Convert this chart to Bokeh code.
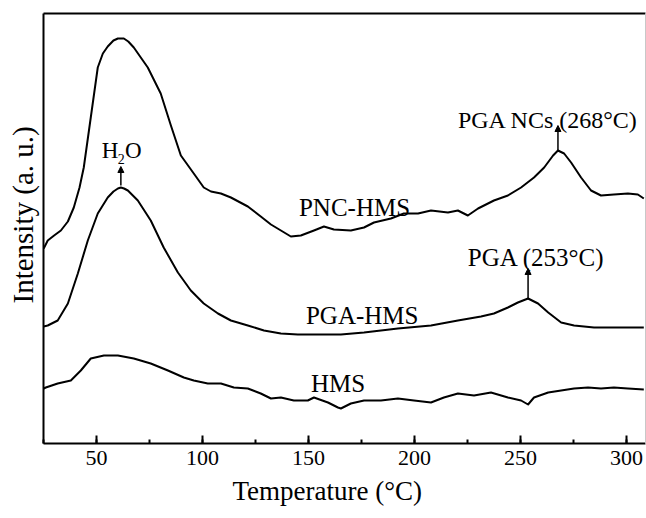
from bokeh.plotting import figure
from bokeh.models import Range1d, LinearAxis, SingleIntervalTicker, FixedTicker, Arrow, NormalHead, Title
from bokeh.core.properties import value
from bokeh.embed import file_html
from bokeh.resources import INLINE

# ---- data (intensity in arbitrary units) ----
pnc_x = [25.1, 27.0, 30.0, 33.2, 36.5, 39.3, 42.0, 44.0, 47.3, 50.6, 53.0, 55.3, 58.0, 60.1, 62.9, 65.0,
         67.6, 74.2, 80.3, 85.1, 89.8, 95.9, 100.6, 104.0, 108.7, 113.4, 121.4, 127.5, 132.3,
         137.0, 141.7, 146.4, 152.6, 157.3, 162.0, 170.0, 176.2, 180.9, 188.9, 195.0, 201.7,
         207.8, 215.8, 220.5, 225.2, 230.0, 237.5, 244.1, 250.3, 256.4, 261.2, 265.4, 267.7,
         270.6, 273.9, 278.6, 283.3, 288.0, 294.1, 300.7, 305.4, 308.2]
pnc_y = [195, 203, 208, 213, 222, 236, 256, 276, 326, 376, 390, 397, 403, 405, 405, 402,
         396, 376, 350, 318, 288, 270, 256, 252, 250, 246, 237, 227, 219,
         213, 207, 208, 213, 217, 214, 213, 216, 221, 225, 230, 230,
         233, 231, 233, 228, 235, 243, 248, 256, 266, 276, 288, 293,
         290, 281, 266, 253, 248, 249, 250, 249, 245]

pga_x = [25.1, 27.0, 31.7, 36.5, 41.2, 45.9, 50.6, 55.3, 58.0, 60.1, 61.5, 63.0, 64.8, 69.5,
         75.6, 81.7, 88.4, 94.5, 100.6, 107.3, 113.4, 121.4, 129.0, 137.0, 145.0, 165.3,
         176.2, 192.2, 207.8, 220.5, 231.4, 237.5, 244.1, 248.8, 253.6, 258.3, 263.1, 269.2,
         275.3, 284.7, 294.1, 308.2]
pga_y = [117, 118, 123, 140, 170, 203, 230, 246, 252, 255, 256, 255, 253, 243,
         223, 196, 171, 153, 140, 130, 123, 118, 113, 110, 109, 109,
         111, 115, 118, 123, 127, 130, 136, 141, 145, 140, 131, 121,
         118, 116, 116, 116]

hms_x = [25.1, 26.1, 31.7, 37.9, 42.6, 47.3, 53.5, 60.1, 67.6, 75.6, 83.7, 91.2, 95.9,
         102.5, 108.7, 114.8, 121.4, 127.5, 132.3, 137.0, 143.1, 149.7, 152.6, 159.2, 163.9,
         165.3, 170.0, 176.2, 184.2, 192.2, 199.8, 207.8, 213.9, 220.5, 228.1, 236.1, 244.1,
         250.3, 253.6, 256.4, 263.1, 269.2, 275.3, 281.9, 288.0, 294.1, 300.7, 308.2]
hms_y = [55, 56, 60, 63, 73, 85, 88, 88, 85, 80, 73, 66, 63,
         60, 60, 56, 55, 50, 45, 46, 43, 43, 46, 41, 36,
         35, 40, 43, 43, 45, 43, 41, 46, 50, 48, 51, 46,
         43, 39, 46, 51, 53, 55, 56, 55, 56, 55, 54]

x_ticks = [50, 100, 150, 200, 250, 300]

curve_names = ["PNC-HMS", "PGA-HMS", "HMS"]
curve_label_x = [145.5, 148.8, 151.2]
curve_label_y = [236, 128, 60]

peak_labels = ["PGA NCs (268°C)", "PGA (253°C)"]
peak_label_x = [220.5, 225.2]
peak_label_y = [324, 186]

arrow_x = [61.5, 267.7, 253.6]
arrow_y0 = [258, 293, 144]
arrow_y1 = [277, 318, 175]

x_title = "Temperature (°C)"
y_title = "Intensity (a. u.)"

FONT = "Liberation Serif"

p = figure(width=646, height=518, output_backend="svg", toolbar_location=None,
           x_range=Range1d(25, 309), y_range=Range1d(0, 430),
           min_border_left=43, min_border_top=13, min_border_right=1, min_border_bottom=75)
p.outline_line_color = None
p.xgrid.visible = False
p.ygrid.visible = False
p.background_fill_color = "white"
p.border_fill_color = "white"

# bottom axis
xa = p.xaxis[0]
xa.ticker = SingleIntervalTicker(interval=50, num_minor_ticks=2)
xa.axis_line_width = 2
xa.major_tick_in = 8
xa.major_tick_out = 0
xa.minor_tick_in = 4
xa.minor_tick_out = 0
xa.major_tick_line_width = 2
xa.minor_tick_line_width = 2
xa.major_label_text_font = FONT
xa.major_label_text_font_size = "22px"
xa.major_label_text_color = "black"
xa.major_label_standoff = 7

# left axis
ya = p.yaxis[0]
ya.ticker = FixedTicker(ticks=[])
ya.axis_line_width = 2
ya.major_label_standoff = 0
ya.major_label_text_font_size = "0px"

# axis titles (offset to match the original placement)
p.add_layout(Title(text=x_title, align="left", offset=189, text_font=FONT,
                   text_font_size="27px", text_font_style="normal", text_color="black",
                   standoff=13), "below")
p.add_layout(Title(text=y_title, align="left", offset=140, text_font=FONT,
                   text_font_size="29px", text_font_style="normal", text_color="black",
                   standoff=9), "left")

# top frame line
ta = LinearAxis(ticker=FixedTicker(ticks=[]), axis_line_width=2, major_label_standoff=0,
                major_label_text_font_size="0px")
p.add_layout(ta, "above")
# faint right edge
ra = LinearAxis(ticker=FixedTicker(ticks=[]), axis_line_width=1, axis_line_color="#c8c8c8",
                major_label_standoff=0, major_label_text_font_size="0px")
p.add_layout(ra, "right")

# curves
for xs, ys in [(pnc_x, pnc_y), (pga_x, pga_y), (hms_x, hms_y)]:
    p.line(xs, ys, line_color="black", line_width=2, line_join="round")

# curve labels
p.text(x=curve_label_x, y=curve_label_y, text=curve_names, text_font=value(FONT),
       text_font_size="25px", text_baseline="alphabetic", text_align="left", text_color="black")
p.text(x=peak_label_x, y=peak_label_y, text=peak_labels, text_font=value(FONT),
       text_font_size=["24px", "25px"], text_baseline="alphabetic", text_align="left", text_color="black")

# H2O label
p.text(x=[52.5, 63.5], y=[293, 293], text=["H", "O"], text_font=value(FONT),
       text_font_size="23px", text_baseline="alphabetic", text_align="left", text_color="black")
p.text(x=[60.0], y=[285], text=["2"], text_font=value(FONT),
       text_font_size="14px", text_baseline="alphabetic", text_align="left", text_color="black")

# arrows
for ax, y0, y1 in zip(arrow_x, arrow_y0, arrow_y1):
    p.add_layout(Arrow(end=NormalHead(size=6, fill_color="black", line_color="black"),
                       x_start=ax, y_start=y0, x_end=ax, y_end=y1,
                       line_color="black", line_width=1.5))

open("out.html", "w").write(file_html(p, INLINE))
